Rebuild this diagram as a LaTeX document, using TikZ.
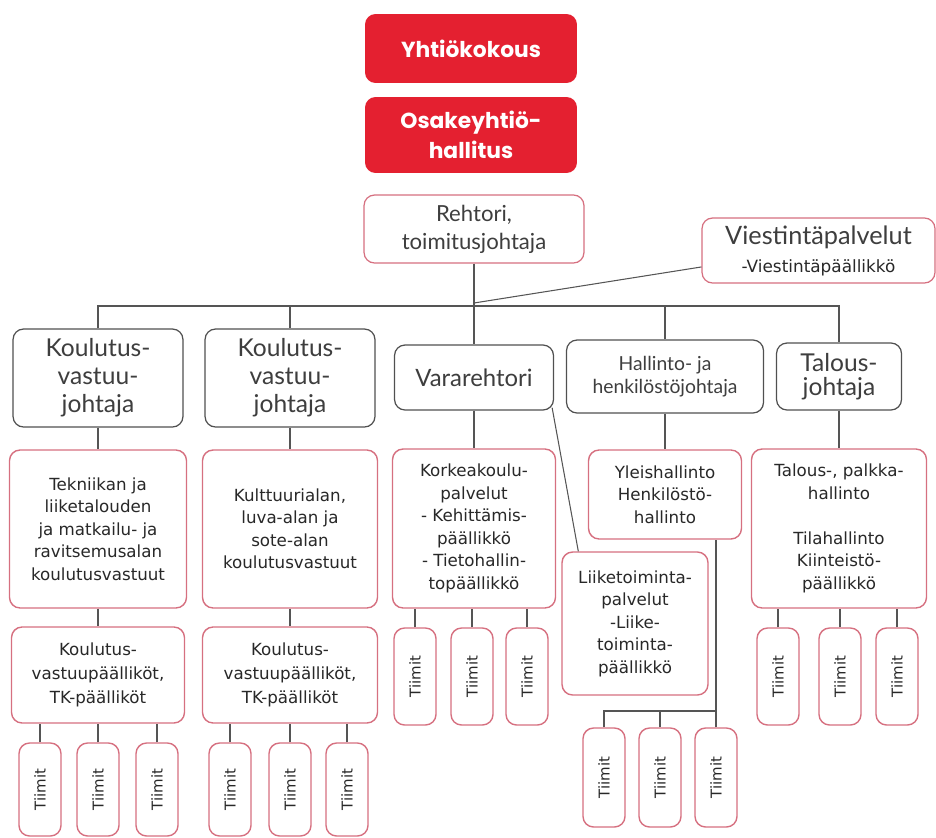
\documentclass[tikz,border=0pt]{standalone}
\usepackage{fontspec}
\setmainfont{DejaVu Sans}
\newfontfamily\headfont{Lato}
\newfontfamily\topfont{Poppins}
\usepackage{graphicx}
\usetikzlibrary{calc}
\definecolor{orgred}{RGB}{228,32,48}
\definecolor{edgepink}{RGB}{214,112,128}
\definecolor{edgegray}{RGB}{80,80,80}
\definecolor{linegray}{RGB}{85,85,85}
\definecolor{txtgray}{RGB}{40,40,40}
\definecolor{headgray}{RGB}{62,62,62}

\begin{document}
\begin{tikzpicture}[x=0.02cm, y=-0.02cm,
    redbox/.style={fill=orgred, rounded corners=6pt, text=white, align=center, inner sep=0pt,
        font=\topfont\bfseries\fontsize{12.4}{17}\selectfont},
    headbox/.style={draw=edgegray, line width=0.7pt, rounded corners=6pt, fill=white, text=headgray,
        align=center, inner sep=0pt, font=\headfont\fontsize{14}{16}\selectfont},
    unitbox/.style={draw=edgepink, line width=0.8pt, rounded corners=6pt, fill=white, text=txtgray,
        align=center, inner sep=0pt, font=\fontsize{9.5}{12.8}\selectfont},
    teambox/.style={draw=edgepink, line width=0.8pt, rounded corners=6pt, fill=white, text=txtgray,
        inner sep=0pt, minimum width=0.84cm, font=\fontsize{8.5}{10}\selectfont},
    link/.style={draw=linegray, line width=0.6pt}]
    \useasboundingbox (0,0) rectangle (936,838);

    % Owners and board
    \node[redbox, minimum width=4.24cm, minimum height=1.38cm] (yk) at (471,48.5) {Yhtiökokous};
    \node[redbox, minimum width=4.24cm, minimum height=1.52cm] (oh) at (471,135) {Osakeyhtiö-\\hallitus};

    % Rector and communications
    \node[headbox, draw=edgepink, minimum width=4.4cm, minimum height=1.36cm, font=\headfont\fontsize{12.6}{16}\selectfont] (reh) at (474,229) {Rehtori,\\toimitusjohtaja};
    \node[headbox, draw=edgepink, minimum width=4.66cm, minimum height=1.3cm] (vie) at (818.5,250.5)
        {{\fontsize{14.4}{17}\selectfont Viestintäpalvelut}\\{\fontspec{DejaVu Sans}\color{txtgray}\fontsize{9.6}{11}\selectfont -Viestintäpäällikkö}};

    % Directors
    \node[headbox, minimum width=3.4cm, minimum height=1.96cm] (kv1) at (98,378) {Koulutus-\\vastuu-\\johtaja};
    \node[headbox, minimum width=3.4cm, minimum height=1.96cm] (kv2) at (290,378) {Koulutus-\\vastuu-\\johtaja};
    \node[headbox, minimum width=3.18cm, minimum height=1.3cm, font=\headfont\fontsize{13.6}{16}\selectfont] (vara) at (474,377.5) {Vararehtori};
    \node[headbox, minimum width=3.94cm, minimum height=1.46cm, font=\headfont\fontsize{11}{13.5}\selectfont] (hal) at (665,376.5) {Hallinto- ja\\henkilöstöjohtaja};
    \node[headbox, minimum width=2.5cm, minimum height=1.34cm, font=\headfont\fontsize{14}{14}\selectfont] (tal) at (839,376.5) {Talous-\\johtaja};

    % Units
    \node[unitbox, minimum width=3.54cm, minimum height=3.16cm] (tek) at (98,529) {Tekniikan ja\\liiketalouden\\ja matkailu- ja\\ravitsemusalan\\koulutusvastuut};
    \node[unitbox, minimum width=3.5cm, minimum height=3.16cm] (kul) at (290,529) {Kulttuurialan,\\luva-alan ja\\sote-alan\\koulutusvastuut};
    \node[unitbox, minimum width=3.26cm, minimum height=3.18cm] (kor) at (474,528.5) {Korkeakoulu-\\palvelut\\- Kehittämis-\\päällikkö\\- Tietohallin-\\topäällikkö};
    \node[unitbox, minimum width=3.06cm, minimum height=1.78cm] (yle) at (665,494.5) {Yleishallinto\\Henkilöstö-\\hallinto};
    \node[unitbox, minimum width=3.5cm, minimum height=3.18cm] (tpa) at (839,528.5) {Talous-, palkka-\\hallinto\\[12.8pt]Tilahallinto\\Kiinteistö-\\päällikkö};
    \node[unitbox, minimum width=2.92cm, minimum height=2.86cm] (lii) at (635,623.5) {Liiketoiminta-\\palvelut\\-Liike-\\toiminta-\\päällikkö};
    \node[unitbox, minimum width=3.46cm, minimum height=1.92cm, font=\fontsize{9.5}{13.8}\selectfont] (kp1) at (98,675) {Koulutus-\\vastuupäälliköt,\\TK-päälliköt};
    \node[unitbox, minimum width=3.5cm, minimum height=1.92cm, font=\fontsize{9.5}{13.8}\selectfont] (kp2) at (290,675) {Koulutus-\\vastuupäälliköt,\\TK-päälliköt};

    % Teams
    \foreach \x [count=\i] in {40,98,157}
        \node[teambox, minimum height=1.86cm] (ta\i) at (\x,789.5) {\rotatebox{90}{Tiimit}};
    \foreach \x [count=\i] in {230,290,347}
        \node[teambox, minimum height=1.86cm] (tb\i) at (\x,789.5) {\rotatebox{90}{Tiimit}};
    \foreach \x [count=\i] in {415,472,527}
        \node[teambox, minimum height=1.94cm] (tc\i) at (\x,676.5) {\rotatebox{90}{Tiimit}};
    \foreach \x [count=\i] in {604,660,716}
        \node[teambox, minimum height=1.98cm] (td\i) at (\x,777.5) {\rotatebox{90}{Tiimit}};
    \foreach \x [count=\i] in {778,840,897}
        \node[teambox, minimum height=1.94cm] (te\i) at (\x,676.5) {\rotatebox{90}{Tiimit}};

    % Connectors
    \coordinate (bus) at (474,306);
    \coordinate (vj) at (474,303);
    \coordinate (tdbus) at (716,711);
    \draw[link] (reh.south) -- (vara.north);
    \draw[link] (vie.188) -- (vj);
    \draw[link] (kv1.north) |- (bus) -| (tal.north);
    \draw[link] (kv2.north) -- (kv2.north |- bus);
    \draw[link] (hal.north) -- (hal.north |- bus);
    \draw[link] (kv1.south) -- (tek.north);
    \draw[link] (kv2.south) -- (kul.north);
    \draw[link] (vara.south) -- (kor.north);
    \draw[link] (hal.south) -- (yle.north);
    \draw[link] (tal.south) -- (tpa.north);
    \draw[link] (tek.south) -- (kp1.north);
    \draw[link] (kul.south) -- (kp2.north);
    \draw[link] ($(vara.south east)+(-2,-3)$) -- ($(lii.north west)+(17,0)$);
    \foreach \i in {1,2,3} {
        \draw[link] (ta\i.north) -- (ta\i.north |- kp1.south);
        \draw[link] (tb\i.north) -- (tb\i.north |- kp2.south);
        \draw[link] (tc\i.north) -- (tc\i.north |- kor.south);
        \draw[link] (te\i.north) -- (te\i.north |- tpa.south);
    }
    \draw[link] (td3.north) -- (td3.north |- yle.south);
    \draw[link] (td1.north) |- (tdbus);
    \draw[link] (td2.north) -- (td2.north |- tdbus);
\end{tikzpicture}
\end{document}
